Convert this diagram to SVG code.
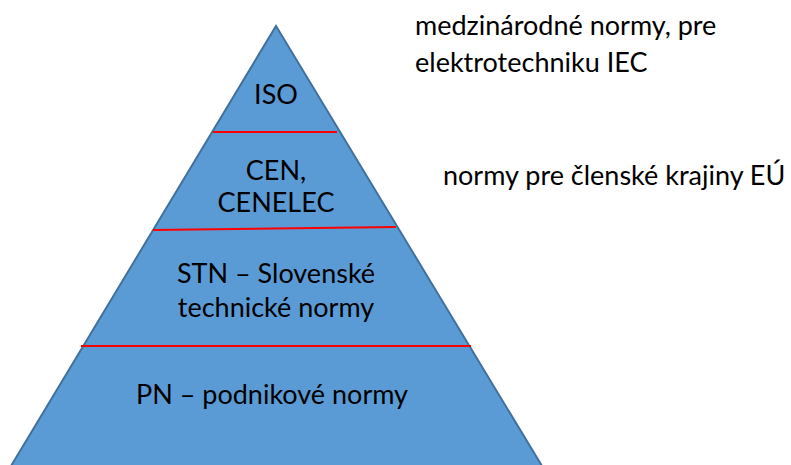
<svg xmlns="http://www.w3.org/2000/svg" width="791" height="465" viewBox="0 0 791 465">
<style>
text{font-family:Lato,"Open Sans","Liberation Sans",sans-serif;font-size:27px;fill:#000}
.c{text-anchor:middle}
.sep{stroke:#FF0000;stroke-width:2;fill:none}
</style>
<rect width="791" height="465" fill="#fff"/>
<g id="pyramid">
<polygon points="276,26 542,466 11,466" fill="#5B9BD5" stroke="#41719C" stroke-width="2"/>
</g>
<g id="connectors">
<line class="sep" x1="213" y1="132" x2="337" y2="132"/>
<line class="sep" x1="153" y1="230" x2="396" y2="227"/>
<line class="sep" x1="81" y1="346" x2="471" y2="346"/>
</g>
<g id="iso"><text class="c" x="276" y="104">ISO</text></g>
<g id="cen"><text class="c" x="276" y="180">CEN,</text><text class="c" x="276" y="212">CENELEC</text></g>
<g id="stn"><text class="c" x="276" y="283">STN – Slovenské</text><text class="c" x="276" y="317">technické normy</text></g>
<g id="pn"><text class="c" x="272" y="404">PN – podnikové normy</text></g>
<g id="label-iso"><text x="415" y="35">medzinárodné normy, pre</text><text x="415" y="72">elektrotechniku IEC</text></g>
<g id="label-cen"><text x="443" y="185">normy pre členské krajiny EÚ</text></g>
</svg>
